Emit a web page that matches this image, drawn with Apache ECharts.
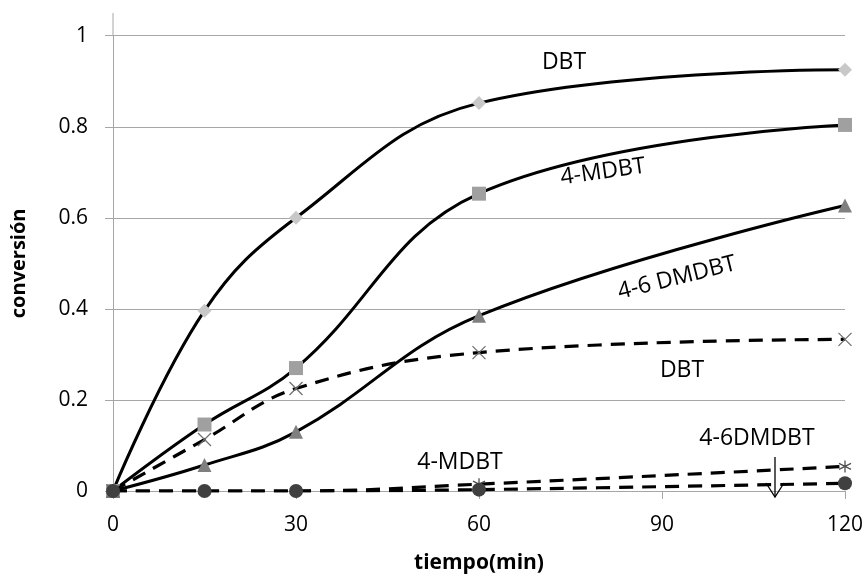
<!DOCTYPE html>
<html>
<head>
<meta charset="utf-8">
<script src="https://cdn.jsdelivr.net/npm/echarts@6/dist/echarts.min.js"></script>
<style>
  html, body { margin: 0; padding: 0; background: #fff; }
  #chart { width: 868px; height: 579px; }
</style>
</head>
<body>
<div id="chart"></div>
<script>
// tiempo (min)
const tiempo = [0, 15, 30, 60, 120];
const xTicks = [0, 30, 60, 90, 120];
const yTicks = [0, 0.2, 0.4, 0.6, 0.8, 1];

// solid curves
const dbtSolid = [0, 0.396, 0.6, 0.852, 0.925];
const mdbtSolid = [0, 0.146, 0.27, 0.653, 0.804];
const dmdbtSolid = [0, 0.057, 0.13, 0.385, 0.627];

// dashed curves
const dbtDash = [0, 0.113, 0.225, 0.304, 0.333];
const mdbtDash = [0, 0, 0, 0.015, 0.054];
const dmdbtDash = [0, 0, 0, 0.003, 0.017];

const FONT = "Open Sans";

function pairs(ys) {
  return tiempo.map((t, i) => [t, ys[i]]);
}

const xMark = "path://M0,0L10,10M10,0L0,10";
const starMark = "path://M5,0L5,10M0.7,2.5L9.3,7.5M0.7,7.5L9.3,2.5";

function solid(name, ys, symbol, color, size) {
  return {
    name, type: "line", data: pairs(ys), smooth: 0.4,
    symbol, symbolSize: size, showSymbol: true,
    lineStyle: { color: "#000", width: 3 },
    itemStyle: { color, borderWidth: 0 },
    z: 3
  };
}

function dashed(name, ys, symbol, color, size, stroke) {
  return {
    name, type: "line", data: pairs(ys), smooth: 0.4,
    symbol, symbolSize: size, showSymbol: true,
    lineStyle: { color: "#000", width: 3.2, type: [14, 9] },
    itemStyle: stroke
      ? { color: "transparent", borderColor: color, borderWidth: 1.3 }
      : { color, borderWidth: 0 },
    z: 4
  };
}

function label(text, x, y, deg) {
  return {
    type: "text", x, y, rotation: (deg || 0) * Math.PI / 180,
    style: { text, font: "23px " + FONT, fill: "#000", align: "center", verticalAlign: "middle" }
  };
}

const chart = echarts.init(document.getElementById("chart"));

chart.setOption({
  animation: false,
  grid: { left: 113, right: 23, top: 35.7, bottom: 87.3 },
  textStyle: { fontFamily: FONT },
  xAxis: {
    type: "value", min: 0, max: 120, interval: 30,
    name: "tiempo(min)", nameLocation: "middle", nameGap: 62,
    nameTextStyle: { fontFamily: FONT, fontSize: 21, fontWeight: "bold", color: "#000" },
    axisLine: { show: true, lineStyle: { color: "#a6a6a6", width: 1 } },
    axisTick: { show: true, length: 8, lineStyle: { color: "#a6a6a6" } },
    axisLabel: {
      fontFamily: FONT, fontSize: 21, color: "#000", margin: 24,
      customValues: xTicks
    },
    splitLine: { show: false }
  },
  yAxis: {
    type: "value", min: 0, max: 1, interval: 0.2,
    name: "conversión", nameLocation: "middle", nameGap: 84,
    nameTextStyle: { fontFamily: FONT, fontSize: 20, fontWeight: "bold", color: "#000" },
    axisLine: { show: true, lineStyle: { color: "#a6a6a6", width: 1 } },
    axisTick: { show: true, length: 8, lineStyle: { color: "#a6a6a6" } },
    axisLabel: {
      fontFamily: FONT, fontSize: 21, color: "#000", margin: 25,
      formatter: v => (yTicks.some(t => Math.abs(t - v) < 1e-9) ? String(+v.toFixed(1)) : "")
    },
    splitLine: { show: true, lineStyle: { color: "#a6a6a6", width: 1 } }
  },
  series: [
    solid("DBT", dbtSolid, "diamond", "#c8c8c8", 14),
    solid("4-MDBT", mdbtSolid, "rect", "#a0a0a0", 14),
    solid("4-6 DMDBT", dmdbtSolid, "triangle", "#7f7f7f", 14),
    dashed("DBT (2)", dbtDash, xMark, "#707070", 13, true),
    dashed("4-MDBT (2)", mdbtDash, starMark, "#505050", 12, true),
    dashed("4-6DMDBT (2)", dmdbtDash, "circle", "#404040", 14, false)
  ],
  graphic: [
    // upper extension of the vertical axis
    { type: "line", shape: { x1: 113, y1: 13, x2: 113, y2: 36 },
      style: { stroke: "#a6a6a6", lineWidth: 1 } },
    label("DBT", 564, 62),
    label("4-MDBT", 603, 172, 8),
    label("4-6 DMDBT", 677, 278, 14),
    label("DBT", 682, 370),
    label("4-MDBT", 460, 462),
    label("4-6DMDBT", 757, 438),
    // arrow
    { type: "polyline", shape: { points: [[775, 457], [775, 497]] },
      style: { stroke: "#000", lineWidth: 1.3, fill: null }, z: 10 },
    { type: "polyline", shape: { points: [[766, 483], [775, 497], [784, 483]] },
      style: { stroke: "#000", lineWidth: 1.3, fill: null }, z: 10 }
  ]
});
</script>
</body>
</html>
